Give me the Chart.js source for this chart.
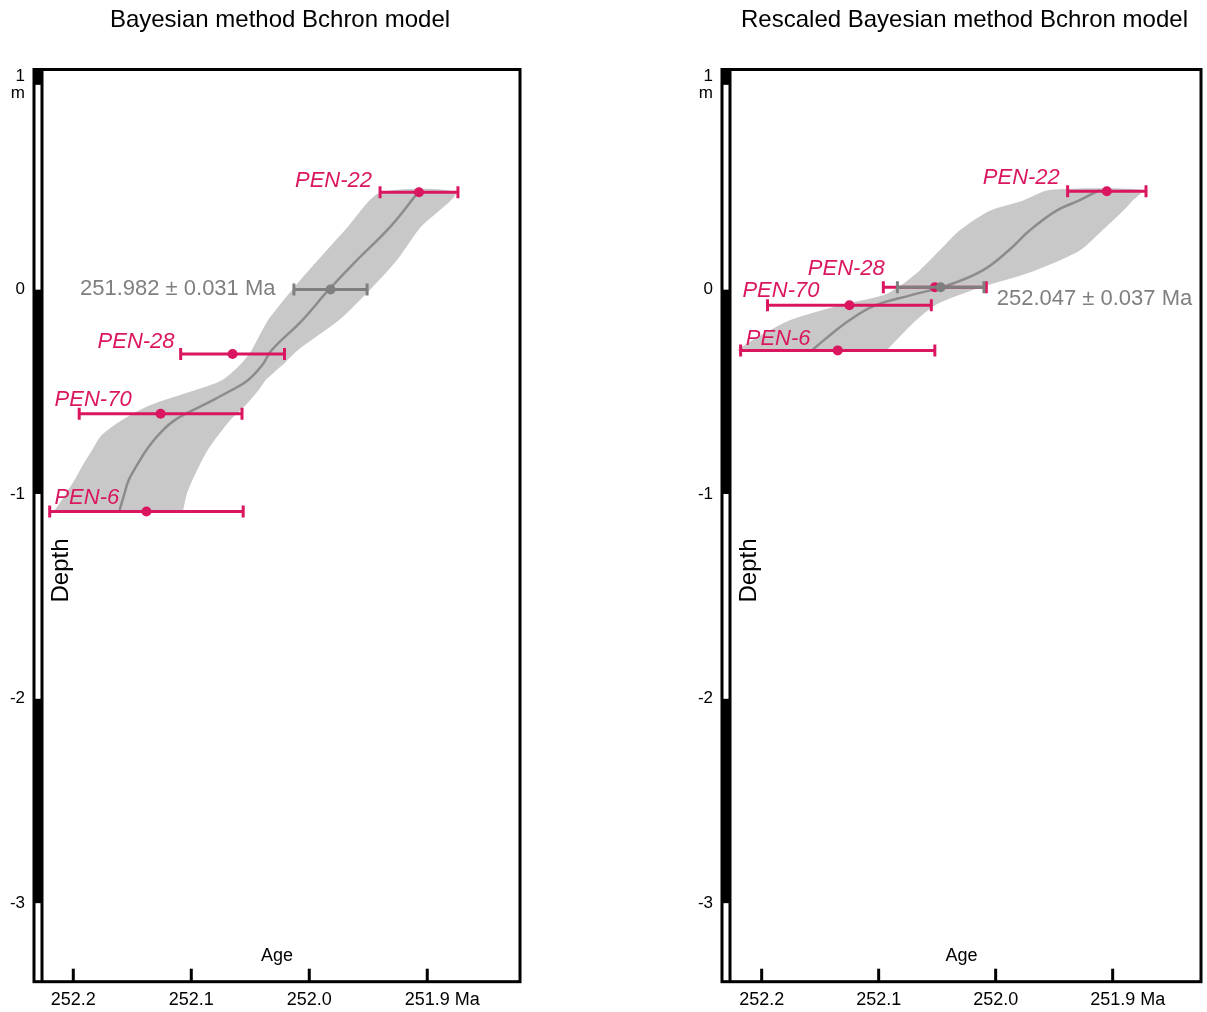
<!DOCTYPE html>
<html>
<head>
<meta charset="utf-8">
<script src="https://cdn.jsdelivr.net/npm/chart.js@4.4.1/dist/chart.umd.min.js"></script>
<style>
  html, body { margin: 0; padding: 0; background: #fff; overflow: hidden; width: 1207px; height: 1012px; }
  canvas { position: absolute; top: 0; }
  #chartLeft { left: 0; }
  #chartRight { left: 688px; }
</style>
</head>
<body>
<canvas id="chartLeft" width="562" height="1012"></canvas>
<canvas id="chartRight" width="550" height="1012"></canvas>
<script>
const FONT = '"Liberation Sans", Arial, Helvetica, sans-serif';
const CRIMSON = '#db1660';
const GREY = '#7f7f7f';
const BAND = '#c8c8c8';
const LINE = '#8c8c8c';

const samples = ['PEN-22', 'PEN-28', 'PEN-70', 'PEN-6'];
const ageTicks = [252.2, 252.1, 252.0, 251.9];
const depthTicks = [1, 0, -1, -2, -3];

// Bayesian method Bchron model
const ageLeft = [251.907, 252.065, 252.126, 252.138];
const errLeft = [0.033, 0.044, 0.069, 0.082];
const depthLeft = [0.475, -0.316, -0.608, -1.086];
const modelAgeLeft = 251.982;
const modelErrLeft = 0.031;
const modelDepthLeft = 0.0;
const gridDepthLeft = [-1.083, -1.005, -0.932, -0.859, -0.785, -0.712, -0.639, -0.566, -0.493, -0.444, -0.371, -0.298, -0.151, -0.005, 0.141, 0.302, 0.473];
const oldLeft = [252.216, 252.207, 252.199, 252.192, 252.184, 252.176, 252.159, 252.135, 252.097, 252.074, 252.059, 252.049, 252.035, 252.015, 251.993, 251.968, 251.940];
const youngLeft = [252.107, 252.104, 252.099, 252.093, 252.086, 252.077, 252.067, 252.054, 252.043, 252.037, 252.023, 252.010, 251.975, 251.949, 251.926, 251.906, 251.876];
const medianLeft = [252.161, 252.157, 252.153, 252.146, 252.138, 252.128, 252.114, 252.090, 252.066, 252.052, 252.040, 252.032, 252.006, 251.984, 251.960, 251.932, 251.908];

// Rescaled Bayesian method Bchron model
const ageRight = [251.905, 252.052, 252.125, 252.135];
const errRight = [0.0335, 0.044, 0.070, 0.083];
const depthRight = [0.480, 0.011, -0.077, -0.298];
const modelAgeRight = 252.047;
const modelErrRight = 0.037;
const modelDepthRight = 0.011;
const gridDepthRight = [-0.298, -0.249, -0.151, -0.078, -0.029, 0.020, 0.093, 0.190, 0.288, 0.385, 0.434, 0.486];
const oldRight = [252.221, 252.208, 252.176, 252.134, 252.096, 252.081, 252.065, 252.048, 252.031, 252.005, 251.977, 251.954];
const youngRight = [252.093, 252.085, 252.068, 252.052, 252.032, 252.007, 251.966, 251.928, 251.909, 251.891, 251.883, 251.874];
const medianRight = [252.157, 252.147, 252.125, 252.103, 252.073, 252.041, 252.011, 251.989, 251.971, 251.948, 251.929, 251.911];

// label placement relative to each point, in pixels: [dx, dy, align]
const labelPosLeft = [[-47, -11, 'right'], [-58, -12, 'right'], [-106, -14, 'left'], [-92, -14, 'left']];
const modelLabelPosLeft = [-55, 0, 'right'];
const labelPosRight = [[-47, -13, 'right'], [-50, -18, 'right'], [-107, -14, 'left'], [-92, -12, 'left']];
const modelLabelPosRight = [56, 12, 'left'];

Chart.defaults.font.family = FONT;
Chart.defaults.color = '#000';

function errBar(age, err, depth, color, order) {
  return {
    type: 'line',
    data: [{x: age - err, y: depth}, {x: age + err, y: depth}],
    borderColor: color,
    borderWidth: 3,
    pointStyle: 'line',
    pointRotation: 90,
    pointRadius: 6,
    pointBorderWidth: 3,
    pointBorderColor: color,
    order: order
  };
}

function decorPlugin(p) {
  return {
    id: 'decor',
    afterDraw(chart) {
      const {ctx, chartArea: a, scales: {x, y}} = chart;
      ctx.save();
      // panel title
      ctx.fillStyle = '#000';
      ctx.font = '24px ' + FONT;
      ctx.textAlign = 'center';
      ctx.textBaseline = 'middle';
      ctx.fillText(p.title, (a.left + a.right) / 2 + 3, 20);
      // metre scale strip
      const stripW = 8;
      for (let m = Math.floor(y.min); m < y.max; m++) {
        const top = y.getPixelForValue(Math.min(m + 1, y.max));
        const bot = y.getPixelForValue(Math.max(m, y.min));
        ctx.fillStyle = Math.abs(m % 2) === 1 ? '#000' : '#fff';
        ctx.fillRect(a.left, top, stripW, bot - top);
      }
      ctx.strokeStyle = '#000';
      ctx.lineWidth = 3;
      ctx.strokeRect(a.left, a.top, a.right - a.left, a.bottom - a.top);
      ctx.beginPath();
      ctx.moveTo(a.left + stripW, a.top);
      ctx.lineTo(a.left + stripW, a.bottom);
      ctx.stroke();
      // inward tick marks
      x.ticks.forEach(t => {
        const px = x.getPixelForValue(t.value);
        ctx.beginPath();
        ctx.moveTo(px, a.bottom);
        ctx.lineTo(px, a.bottom - 13);
        ctx.stroke();
      });
      // unit after last tick
      ctx.fillStyle = '#000';
      ctx.font = '18px ' + FONT;
      ctx.textAlign = 'left';
      const last = ageTicks[ageTicks.length - 1];
      const wl = ctx.measureText(last.toFixed(1)).width;
      ctx.fillText('Ma', x.getPixelForValue(last) + wl / 2 + 5, a.bottom + 18.3);
      // axis titles
      ctx.textAlign = 'center';
      ctx.fillText('Age', (a.left + a.right) / 2, a.bottom - 26);
      ctx.save();
      ctx.font = '24px ' + FONT;
      ctx.translate(a.left + 27, a.top + 501);
      ctx.rotate(-Math.PI / 2);
      ctx.fillText('Depth', 0, 0);
      ctx.restore();
      // sample labels
      ctx.font = 'italic 22px ' + FONT;
      ctx.fillStyle = CRIMSON;
      samples.forEach((s, i) => {
        const [dx, dy, al] = p.labelPos[i];
        ctx.textAlign = al;
        ctx.fillText(s, x.getPixelForValue(p.age[i]) + dx, y.getPixelForValue(p.depth[i]) + dy);
      });
      ctx.font = '22px ' + FONT;
      ctx.fillStyle = GREY;
      const [mdx, mdy, mal] = p.modelLabelPos;
      ctx.textAlign = mal;
      ctx.fillText(p.modelAge.toFixed(3) + ' \u00b1 ' + p.modelErr.toFixed(3) + ' Ma',
        x.getPixelForValue(p.modelAge) + mdx, y.getPixelForValue(p.modelDepth) + mdy);
      ctx.restore();
    }
  };
}

function buildPanel(id, p) {
  const band = p.gridDepth.map((d, i) => ({x: p.old[i], y: d}))
    .concat(p.gridDepth.map((d, i) => ({x: p.young[i], y: d})).reverse());
  const datasets = [
    {type: 'line', data: band, fill: 'shape', backgroundColor: BAND, borderWidth: 0, pointRadius: 0, tension: 0.25, order: 6},
    {type: 'line', data: p.gridDepth.map((d, i) => ({x: p.median[i], y: d})), borderColor: LINE, borderWidth: 2.5, pointRadius: 0, tension: 0.4, fill: false, order: 5}
  ];
  samples.forEach((s, i) => datasets.push(errBar(p.age[i], p.err[i], p.depth[i], CRIMSON, 4)));
  datasets.push({type: 'scatter', data: samples.map((s, i) => ({x: p.age[i], y: p.depth[i]})), pointRadius: 5, pointBackgroundColor: CRIMSON, pointBorderWidth: 0, order: 3});
  datasets.push(errBar(p.modelAge, p.modelErr, p.modelDepth, GREY, 2));
  datasets.push({type: 'scatter', data: [{x: p.modelAge, y: p.modelDepth}], pointRadius: 5, pointBackgroundColor: GREY, pointBorderWidth: 0, order: 1});

  return new Chart(document.getElementById(id), {
    type: 'scatter',
    data: {datasets: datasets},
    options: {
      responsive: false,
      animation: false,
      events: [],
      layout: {padding: {left: 0, right: p.padRight, top: 69.5, bottom: 0}},
      plugins: {
        legend: {display: false},
        tooltip: {enabled: false},
        title: {display: false}
      },
      scales: {
        x: {
          type: 'linear', reverse: true, min: p.xMin, max: p.xMax,
          grid: {display: false, drawTicks: false}, border: {display: false},
          afterBuildTicks: s => { s.ticks = ageTicks.map(v => ({value: v})); },
          afterFit: s => { s.height = 30.3; },
          ticks: {padding: 7.5, maxRotation: 0, autoSkip: false, color: '#000', font: {size: 18},
            callback: v => Number(v).toFixed(1)}
        },
        y: {
          type: 'linear', min: -3.384, max: 1.075,
          grid: {display: false, drawTicks: false}, border: {display: false},
          afterBuildTicks: s => { s.ticks = depthTicks.map(v => ({value: v})); },
          afterFit: s => { s.width = 34; },
          ticks: {padding: 9, color: '#000', font: {size: 17, lineHeight: 1.05},
            callback: v => v === 1 ? ['1', 'm'] : String(v)}
        }
      }
    },
    plugins: [decorPlugin(p)]
  });
}

buildPanel('chartLeft', {
  title: 'Bayesian method Bchron model', padRight: 42, xMin: 251.8214, xMax: 252.2333,
  age: ageLeft, err: errLeft, depth: depthLeft,
  modelAge: modelAgeLeft, modelErr: modelErrLeft, modelDepth: modelDepthLeft,
  gridDepth: gridDepthLeft, old: oldLeft, young: youngLeft, median: medianLeft,
  labelPos: labelPosLeft, modelLabelPos: modelLabelPosLeft
});

buildPanel('chartRight', {
  title: 'Rescaled Bayesian method Bchron model', padRight: 37, xMin: 251.8245, xMax: 252.2339,
  age: ageRight, err: errRight, depth: depthRight,
  modelAge: modelAgeRight, modelErr: modelErrRight, modelDepth: modelDepthRight,
  gridDepth: gridDepthRight, old: oldRight, young: youngRight, median: medianRight,
  labelPos: labelPosRight, modelLabelPos: modelLabelPosRight
});
</script>
</body>
</html>
